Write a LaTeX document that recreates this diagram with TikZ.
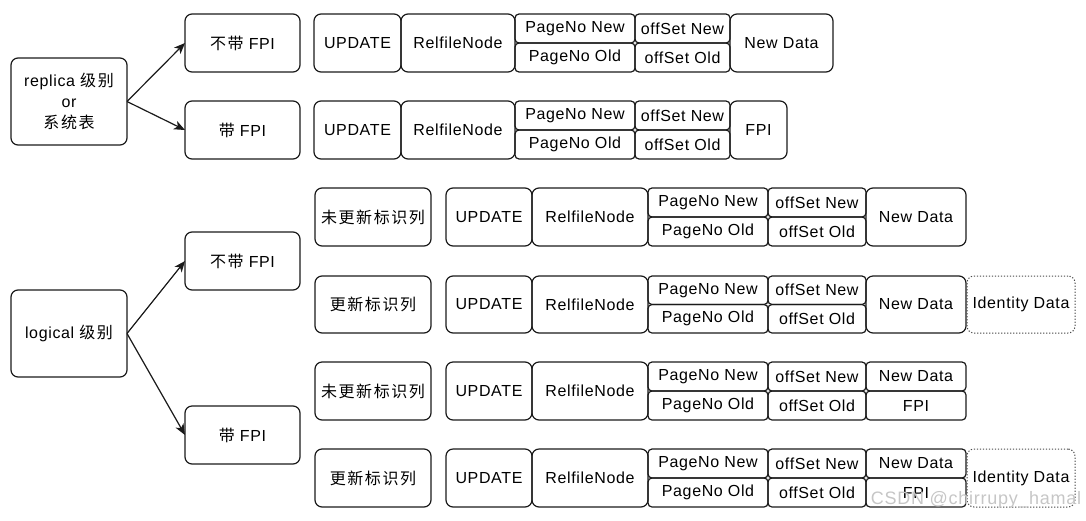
\documentclass[tikz,border=0pt]{standalone}
\usepackage{fontspec}
\setmainfont{Liberation Sans}[LetterSpace=4]
\newfontfamily\cjk{Noto Sans CJK SC}[LetterSpace=10]
\usetikzlibrary{arrows.meta}
\definecolor{ln}{HTML}{1A1A1A}
\tikzset{
  box/.style={draw=ln, line width=1.2pt, rounded corners=7pt, inner sep=0pt, outer sep=0pt,
    font=\fontsize{16}{21}\selectfont, text=black, align=center},
  half/.style={box, rounded corners=4pt},
  dotbox/.style={box, draw=ln!80, line width=1pt, dash pattern=on 1.2pt off 1.8pt},
  arr/.style={draw=ln, line width=1.2pt, -{Stealth[length=11pt,width=9pt,inset=3pt]}},
  wm/.style={font=\fontsize{18}{20}\selectfont, text=gray!45, inner sep=0pt}
}
% #1 style, #2 name, #3 x1, #4 y1, #5 x2, #6 y2, #7 text
\newcommand\bx[7]{%
  \node[#1, minimum width={(#5-#3)*1pt}, minimum height={(#6-#4)*1pt}]
    (#2) at ({(#3+#5)/2},{(#4+#6)/2}) {#7};}
\begin{document}
\begin{tikzpicture}[x=1pt,y=-1pt]
\useasboundingbox (0,0) rectangle (1086,520);

% left column
\bx{box}{rep}{11}{58}{127}{145}{replica {\cjk 级别}\\or\\{\cjk 系统表}}
\bx{box}{nfa}{185}{14}{300}{72}{{\cjk 不带} FPI}
\bx{box}{fa}{185}{101}{300}{159}{{\cjk 带} FPI}
\bx{box}{log}{11}{290}{127}{377}{logical {\cjk 级别}}
\bx{box}{nfb}{185}{232}{300}{290}{{\cjk 不带} FPI}
\bx{box}{fb}{185}{406}{300}{464}{{\cjk 带} FPI}

\draw[arr] (rep.east) -- (nfa.west);
\draw[arr] (rep.east) -- (fa.west);
\draw[arr] (log.east) -- (nfb.west);
\draw[arr] (log.east) -- (fb.west);

% replica row 1
\bx{box}{a1}{314}{14}{401}{72}{UPDATE}
\bx{box}{a2}{401}{14}{515}{72}{RelfileNode}
\bx{half}{a3}{515}{14}{635}{43}{PageNo New}
\bx{half}{a4}{515}{43}{635}{72}{PageNo Old}
\bx{half}{a5}{635}{14}{730}{43}{offSet New}
\bx{half}{a6}{635}{43}{730}{72}{offSet Old}
\bx{box}{a7}{730}{14}{833}{72}{New Data}

% replica row 2
\bx{box}{b1}{314}{101}{401}{159}{UPDATE}
\bx{box}{b2}{401}{101}{515}{159}{RelfileNode}
\bx{half}{b3}{515}{101}{635}{130}{PageNo New}
\bx{half}{b4}{515}{130}{635}{159}{PageNo Old}
\bx{half}{b5}{635}{101}{730}{130}{offSet New}
\bx{half}{b6}{635}{130}{730}{159}{offSet Old}
\bx{box}{b7}{730}{101}{787}{159}{FPI}

% logical row A
\bx{box}{cl}{315}{188}{431}{246}{{\cjk 未更新标识列}}
\bx{box}{c1}{446}{188}{532}{246}{UPDATE}
\bx{box}{c2}{532}{188}{648}{246}{RelfileNode}
\bx{half}{c3}{648}{188}{768}{217}{PageNo New}
\bx{half}{c4}{648}{217}{768}{246}{PageNo Old}
\bx{half}{c5}{768}{188}{866}{217}{offSet New}
\bx{half}{c6}{768}{217}{866}{246}{offSet Old}
\bx{box}{c7}{866}{188}{966}{246}{New Data}

% logical row B
\bx{box}{dl}{315}{276}{431}{333}{{\cjk 更新标识列}}
\bx{box}{d1}{446}{276}{532}{333}{UPDATE}
\bx{box}{d2}{532}{276}{648}{333}{RelfileNode}
\bx{half}{d3}{648}{276}{768}{304.5}{PageNo New}
\bx{half}{d4}{648}{304.5}{768}{333}{PageNo Old}
\bx{half}{d5}{768}{276}{866}{304.5}{offSet New}
\bx{half}{d6}{768}{304.5}{866}{333}{offSet Old}
\bx{box}{d7}{866}{276}{966}{333}{New Data}
\bx{dotbox}{d8}{967}{276}{1075}{333}{Identity Data}

% logical row C
\bx{box}{el}{315}{362}{431}{420}{{\cjk 未更新标识列}}
\bx{box}{e1}{446}{362}{532}{420}{UPDATE}
\bx{box}{e2}{532}{362}{648}{420}{RelfileNode}
\bx{half}{e3}{648}{362}{768}{391}{PageNo New}
\bx{half}{e4}{648}{391}{768}{420}{PageNo Old}
\bx{half}{e5}{768}{362}{866}{391}{offSet New}
\bx{half}{e6}{768}{391}{866}{420}{offSet Old}
\bx{half}{e7}{866}{362}{966}{391}{New Data}
\bx{half}{e8}{866}{391}{966}{420}{FPI}

% logical row D
\bx{box}{fl}{315}{449}{431}{507}{{\cjk 更新标识列}}
\bx{box}{f1}{446}{449}{532}{507}{UPDATE}
\bx{box}{f2}{532}{449}{648}{507}{RelfileNode}
\bx{half}{f3}{648}{449}{768}{478}{PageNo New}
\bx{half}{f4}{648}{478}{768}{507}{PageNo Old}
\bx{half}{f5}{768}{449}{866}{478}{offSet New}
\bx{half}{f6}{768}{478}{866}{507}{offSet Old}
\bx{half}{f7}{866}{449}{966}{478}{New Data}
\bx{half}{f8}{866}{478}{966}{507}{FPI}
\bx{dotbox}{f9}{967}{449}{1075}{507}{Identity Data}

% watermark
\node[wm] (wm) at (976,500) {CSDN @chirrupy\_hamal};
\end{tikzpicture}
\end{document}
